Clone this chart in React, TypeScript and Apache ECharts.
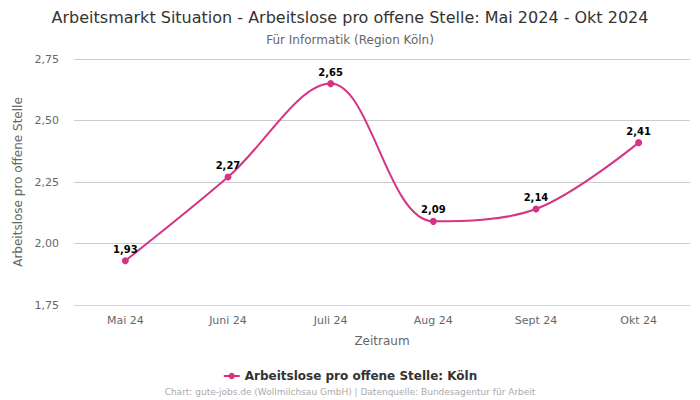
import React, { useEffect, useRef } from "react";
import * as echarts from "echarts";

const categories = ["Mai 24", "Juni 24", "Juli 24", "Aug 24", "Sept 24", "Okt 24"];
const values = [1.93, 2.27, 2.65, 2.09, 2.14, 2.41];
const seriesName = "Arbeitslose pro offene Stelle: Köln";
const titleText = "Arbeitsmarkt Situation - Arbeitslose pro offene Stelle: Mai 2024 - Okt 2024";
const subtitleText = "Für Informatik (Region Köln)";
const footerText = "Chart: gute-jobs.de (Wollmilchsau GmbH) | Datenquelle: Bundesagentur für Arbeit";

const fmt = (v: number) => v.toFixed(2).replace(".", ",");

export default function App() {
  const ref = useRef<HTMLDivElement>(null);
  useEffect(() => {
    if (!ref.current) return;
    const chart = echarts.init(ref.current, null, { renderer: "svg" });
    const font = "DejaVu Sans";
    chart.setOption({
      animation: false,
      textStyle: { fontFamily: font },
      title: [
        {
          text: titleText,
          left: "center",
          top: 4,
          textStyle: { fontSize: 16, fontWeight: "normal", color: "#333", fontFamily: font },
        },
        {
          text: subtitleText,
          left: "center",
          top: 29,
          textStyle: { fontSize: 12, fontWeight: "normal", color: "#666", fontFamily: font },
        },
        {
          text: footerText,
          left: "center",
          top: 382,
          textStyle: { fontSize: 9, fontWeight: "normal", color: "#aaa", fontFamily: font },
        },
      ],
      legend: {
        top: 365,
        left: "center",
        itemWidth: 16,
        itemHeight: 8,
        textStyle: { fontSize: 12, fontWeight: "bold", color: "#333", fontFamily: font },
        data: [seriesName],
      },
      grid: { left: 74, right: 10, top: 59, bottom: 95 },
      xAxis: {
        type: "category",
        data: categories,
        boundaryGap: true,
        name: "Zeitraum",
        nameLocation: "middle",
        nameGap: 30,
        nameTextStyle: { fontSize: 12, color: "#666", fontFamily: font },
        axisLine: { show: true, lineStyle: { color: "#ccd6eb" } },
        axisTick: { show: false },
        axisLabel: { fontSize: 11, color: "#666", margin: 10, fontFamily: font },
      },
      yAxis: {
        type: "value",
        min: 1.75,
        max: 2.75,
        interval: 0.25,
        name: "Arbeitslose pro offene Stelle",
        nameLocation: "middle",
        nameGap: 40,
        nameTextStyle: { fontSize: 12, color: "#666", fontFamily: font },
        axisLabel: { fontSize: 11, color: "#666", margin: 15, formatter: (v: number) => fmt(v), fontFamily: font },
        splitLine: { lineStyle: { color: "#ccc" } },
      },
      series: [
        {
          name: seriesName,
          type: "line",
          data: values,
          smooth: 0.35,
          symbol: "circle",
          symbolSize: 7,
          itemStyle: { color: "#d63384" },
          lineStyle: { color: "#d63384", width: 2 },
          label: {
            show: true,
            position: "top",
            distance: 3,
            fontSize: 10,
            fontWeight: "bold",
            color: "#000",
            fontFamily: font,
            formatter: (p: any) => fmt(p.value),
          },
        },
      ],
    });
    return () => chart.dispose();
  }, []);
  return <div ref={ref} style={{ width: 700, height: 400, position: "absolute", left: 0, top: 0 }} />;
}
